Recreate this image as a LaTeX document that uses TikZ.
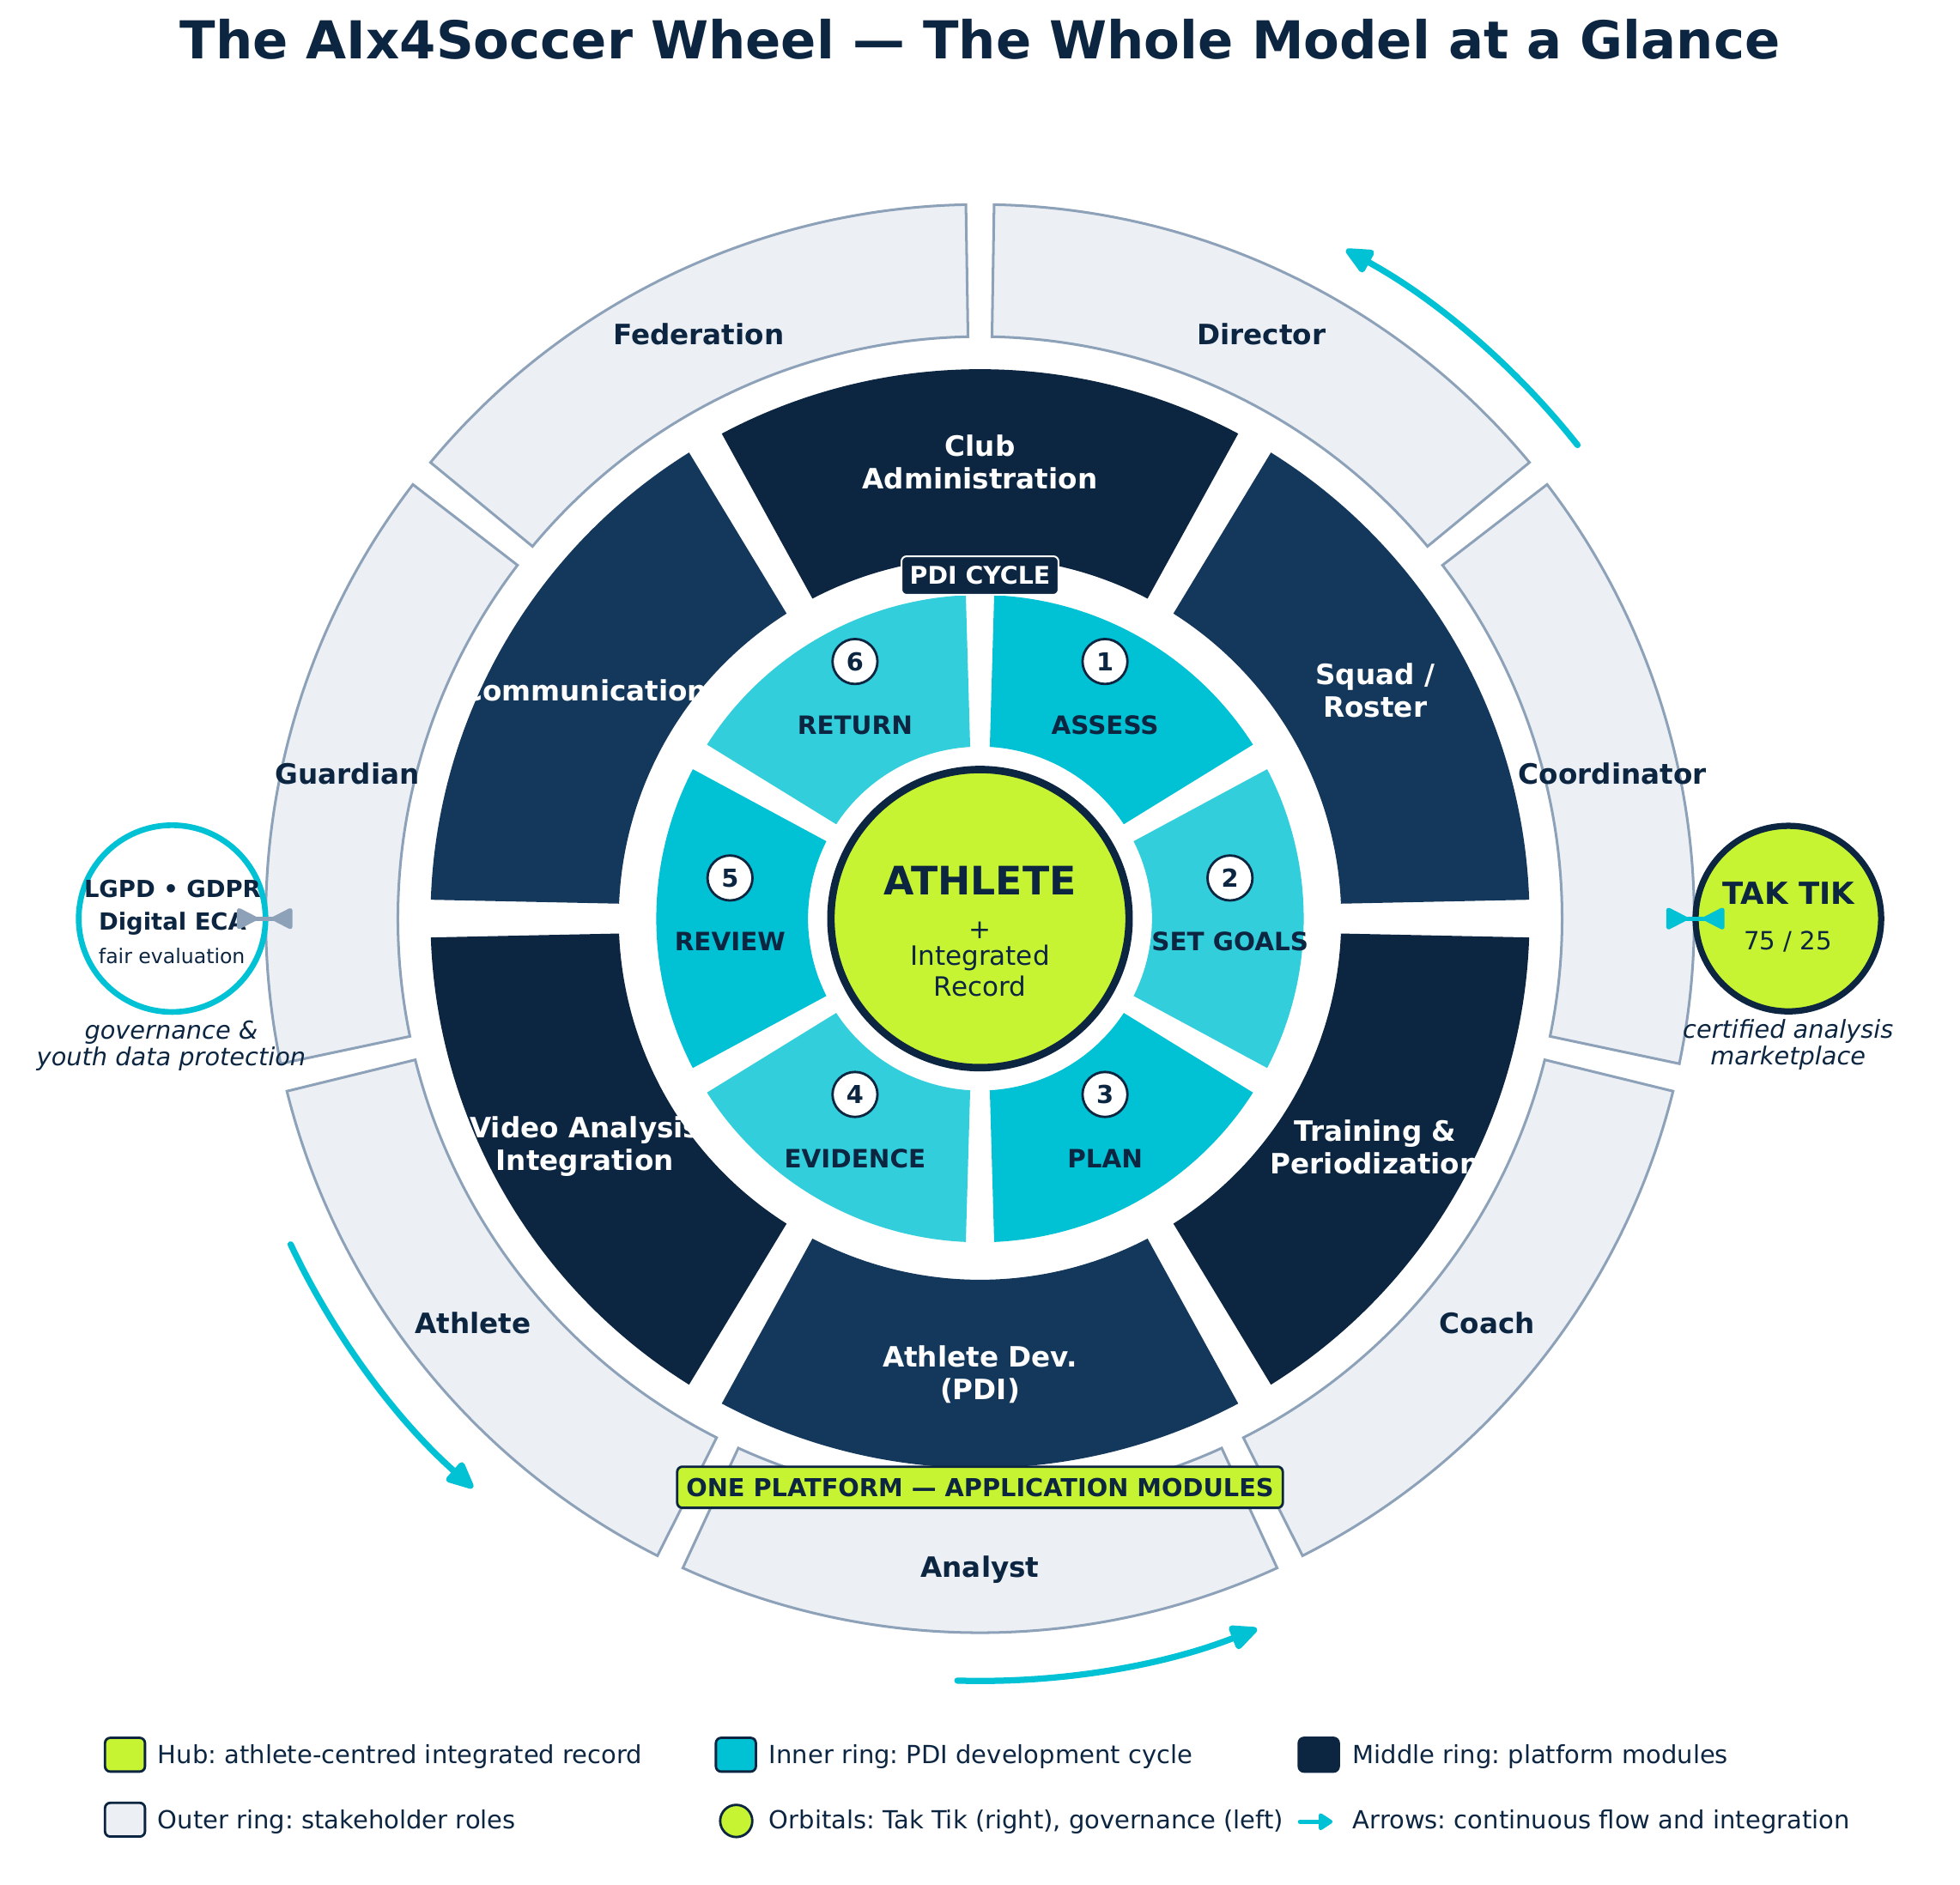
\documentclass[tikz,border=0pt]{standalone}
\usepackage{fontspec}
\setmainfont{DejaVu Sans}
\usetikzlibrary{arrows.meta}
\frenchspacing
\definecolor{navy}{HTML}{0C2541}
\definecolor{navyb}{HTML}{14385C}
\definecolor{cyanA}{HTML}{00C2D4}
\definecolor{cyanB}{HTML}{33CEDB}
\definecolor{lime}{HTML}{C6F432}
\definecolor{pale}{HTML}{ECF0F5}
\definecolor{slate}{HTML}{8DA2B8}
\newcommand{\wheelseg}[7]{%
  \pgfmathsetmacro{\wsO}{#6+asin(#7/#5)}%
  \pgfmathsetmacro{\wsI}{#6+asin(#7/#4)}%
  \pgfmathsetmacro{\wsA}{#2+\wsO}\pgfmathsetmacro{\wsB}{#3-\wsO}%
  \pgfmathsetmacro{\wsC}{#3-\wsI}\pgfmathsetmacro{\wsD}{#2+\wsI}%
  \path[#1] (\wsA:#5) arc[start angle=\wsA, end angle=\wsB, radius=#5] -- (\wsC:#4) arc[start angle=\wsC, end angle=\wsD, radius=#4] -- cycle;}
\tikzset{
  titletext/.style={font=\fontsize{30.2}{36}\selectfont\bfseries, text=navy, inner sep=0},
  outerlab/.style={font=\fontsize{16.2}{18.9}\selectfont\bfseries, text=navy, inner sep=0, text height=11.8pt, text depth=0pt},
  midlab/.style={font=\fontsize{16.2}{18.9}\selectfont\bfseries, text=white, align=center, inner sep=0},
  innerlab/.style={font=\fontsize{14.6}{17}\selectfont\bfseries, text=navy, inner sep=0, text height=10.6pt, text depth=0pt},
  numdot/.style={circle, draw=navy, fill=white, line width=1.4pt, minimum size=26pt, inner sep=0, font=\fontsize{14.3}{17}\selectfont\bfseries, text=navy},
  hubcirc/.style={circle, draw=navy, fill=lime, line width=4.3pt, minimum size=172.4pt, inner sep=0},
  plain/.style={inner sep=0, anchor=base, text=navy},
  tagbox/.style={rounded corners=3pt, inner xsep=4.8pt, inner ysep=6pt, text height=10.3pt, text depth=0pt},
  flow/.style={draw=cyanA, line width=3.6pt, line cap=round, -{Triangle[length=18pt, width=15.5pt, round]}},
  legkey/.style={draw=navy, line width=1.4pt, rounded corners=3pt, minimum width=23.1pt, minimum height=19.5pt, inner sep=0},
  legtext/.style={font=\fontsize{14.4}{17}\selectfont, text=navy, inner sep=0, anchor=base west},
  capt/.style={font=\fontsize{14.3}{17}\selectfont\itshape, text=navy, inner sep=0, anchor=base},
}
\begin{document}
\begin{tikzpicture}[x=0.254mm,y=0.254mm]
\useasboundingbox (-784,-773) rectangle (784,735);
\node[titletext, anchor=base] (title) at (0,688.1) {The AIx4Soccer Wheel — The Whole Model at a Glance};
% outer ring
\foreach \i in {0,...,6}{
  \pgfmathsetmacro{\thA}{90-(\i+1)*360/7}
  \pgfmathsetmacro{\thB}{90-\i*360/7}
  \wheelseg{fill=pale, draw=slate, line width=1.5pt}{\thA}{\thB}{465.7}{571.4}{0.9}{2.3}
}
% middle ring
\foreach \col [count=\i from 0] in {navy,navyb,navy,navyb,navy,navyb}{
  \pgfmathsetmacro{\thA}{60-\i*60}
  \pgfmathsetmacro{\thB}{120-\i*60}
  \wheelseg{fill=\col}{\thA}{\thB}{289}{439.6}{1.2}{5.9}
}
% inner ring
\foreach \col [count=\i from 0] in {cyanA,cyanB,cyanA,cyanB,cyanA,cyanB}{
  \pgfmathsetmacro{\thA}{30-\i*60}
  \pgfmathsetmacro{\thB}{90-\i*60}
  \wheelseg{fill=\col}{\thA}{\thB}{137.6}{259}{1.65}{3.9}
}
% hub
\node[hubcirc] (hub) at (0,0) {};
\node[plain, font=\fontsize{22.7}{27}\selectfont\bfseries] (hubA) at (0,19.1) {ATHLETE};
\node[plain, font=\fontsize{15.4}{18}\selectfont] (hubB) at (0,-16) {+};
\node[plain, font=\fontsize{15.4}{18}\selectfont] (hubC) at (0,-37.3) {Integrated};
\node[plain, font=\fontsize{15.4}{18}\selectfont] (hubD) at (0,-62.3) {Record};
% outer labels
\foreach \lab [count=\i from 0] in {Director,Coordinator,Coach,Analyst,Athlete,Guardian,Federation}{
  \pgfmathsetmacro{\thM}{90-(\i+0.5)*360/7}
  \node[outerlab] (role\i) at (\thM:519) {\lab};
}
% middle labels
\foreach \lab [count=\i from 0] in {{Club\\Administration},{Squad /\\Roster},{Training \&\\Periodization},{Athlete Dev.\\(PDI)},{Video Analysis\\Integration},{Communication}}{
  \node[midlab] (mod\i) at ({90-60*\i}:365) {\lab};
}
% inner labels
\foreach \lab/\num [count=\i from 0] in {ASSESS/1,SET GOALS/2,PLAN/3,EVIDENCE/4,REVIEW/5,RETURN/6}{
  \pgfmathsetmacro{\px}{200*cos(60-60*\i)}
  \pgfmathsetmacro{\py}{200*sin(60-60*\i)}
  \node[innerlab] (step\i) at (\px,\py-18.6) {\lab};
  \node[numdot] (num\i) at (\px,\py+32.5) {\num};
}
% tags
\node[tagbox, fill=navy, draw=white, line width=1pt, text=white, font=\fontsize{14.1}{17}\selectfont\bfseries] (pdi) at (0,274.5) {PDI CYCLE};
\node[tagbox, fill=lime, draw=navy, line width=1.4pt, text=navy, inner xsep=5.2pt, inner ysep=6.7pt, text height=10.4pt, font=\fontsize{14.3}{17}\selectfont\bfseries] (plat) at (0,-455) {ONE PLATFORM — APPLICATION MODULES};
% flow arrows
\foreach \a/\b [count=\i] in {38.4/61.3, 205.3/228.3, 268.3/291.3}{
  \coordinate (flow\i) at (\a:610);
  \draw[flow] (flow\i) arc[start angle=\a, end angle=\b, radius=610];
}
% orbitals
\node[circle, draw=cyanA, fill=white, line width=3.3pt, minimum size=108pt, inner sep=0] (gov) at (-646.3,0) {};
\node[circle, draw=navy, fill=lime, line width=3.6pt, minimum size=107.3pt, inner sep=0] (tak) at (646.7,0) {};
\node[plain, font=\fontsize{13.6}{16}\selectfont\bfseries] (govA) at (-646,16.6) {LGPD • GDPR};
\node[plain, font=\fontsize{13.6}{16}\selectfont\bfseries] (govB) at (-646,-8.9) {Digital ECA};
\node[plain, font=\fontsize{11.7}{14}\selectfont] (govC) at (-646.5,-36) {fair evaluation};
\node[capt] (govD) at (-647,-96.7) {governance \&};
\node[capt] (govE) at (-647,-117.4) {youth data protection};
\node[plain, font=\fontsize{17.6}{21}\selectfont\bfseries] (takA) at (646.7,11.7) {TAK TIK};
\node[plain, font=\fontsize{14.5}{17}\selectfont] (takB) at (646.4,-25.3) {75 / 25};
\node[capt] (takC) at (646.5,-95.6) {certified analysis};
\node[capt] (takD) at (646.5,-117.3) {marketplace};
% bow-tie connectors
\coordinate (govL) at (-594.5,0);
\coordinate (govR) at (-550,0);
\coordinate (takL) at (549,0);
\coordinate (takR) at (595.6,0);
\draw[slate, line width=2.6pt, {Triangle[reversed,length=13.5pt,width=13pt,round]}-{Triangle[reversed,length=13.5pt,width=13pt,round]}] (govL) -- (govR);
\draw[cyanA, line width=2.6pt, {Triangle[reversed,length=14pt,width=13.5pt,round]}-{Triangle[reversed,length=14pt,width=13.5pt,round]}] (takL) -- (takR);
% legend
\node[legkey, fill=lime] (key1) at (-684,-669) {};
\node[legtext] (lt1) at (-658,-676.3) {Hub: athlete-centred integrated record};
\node[legkey, fill=cyanA] (key2) at (-195.3,-669) {};
\node[legtext] (lt2) at (-169,-676.3) {Inner ring: PDI development cycle};
\node[legkey, fill=navy] (key3) at (271,-669) {};
\node[legtext] (lt3) at (298,-676.3) {Middle ring: platform modules};
\node[legkey, fill=pale] (key4) at (-684,-721) {};
\node[legtext] (lt4) at (-658,-728.3) {Outer ring: stakeholder roles};
\node[circle, draw=navy, fill=lime, line width=1.4pt, minimum size=18.6pt, inner sep=0] (key5) at (-195,-722) {};
\node[legtext] (lt5) at (-169,-728.3) {Orbitals: Tak Tik (right), governance (left)};
\coordinate (key6a) at (256,-722.6);
\coordinate (key6b) at (282,-722.6);
\draw[cyanA, line width=2.5pt, line cap=round, -{Triangle[length=9pt,width=11pt,round]}] (key6a) -- (key6b);
\node[legtext] (lt6) at (298,-728.3) {Arrows: continuous flow and integration};
\end{tikzpicture}
\end{document}
